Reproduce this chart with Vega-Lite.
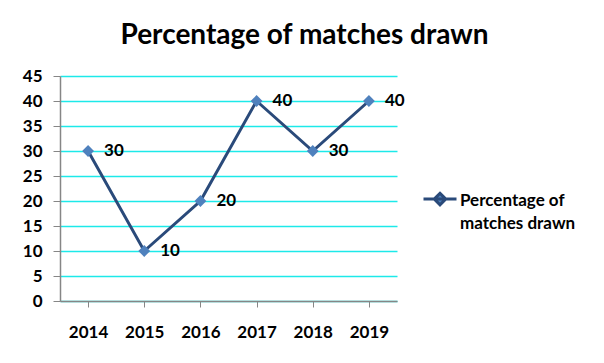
{
  "$schema": "https://vega.github.io/schema/vega-lite/v6.json",
  "autosize": "none",
  "width": 337,
  "height": 225,
  "padding": {"left": 60, "top": 76, "right": 207, "bottom": 62},
  "background": "white",
  "title": {
    "text": "Percentage of matches drawn",
    "anchor": "middle",
    "frame": "group",
    "dx": 76,
    "offset": 17,
    "font": "Lato",
    "fontSize": 28,
    "fontWeight": "bold",
    "color": "#000000"
  },
  "data": {
    "values": [
      {"year": "2014", "value": 30, "series": "Percentage of matches drawn"},
      {"year": "2015", "value": 10, "series": "Percentage of matches drawn"},
      {"year": "2016", "value": 20, "series": "Percentage of matches drawn"},
      {"year": "2017", "value": 40, "series": "Percentage of matches drawn"},
      {"year": "2018", "value": 30, "series": "Percentage of matches drawn"},
      {"year": "2019", "value": 40, "series": "Percentage of matches drawn"}
    ]
  },
  "encoding": {
    "x": {
      "field": "year",
      "type": "ordinal",
      "scale": {"paddingInner": 0, "paddingOuter": 0},
      "axis": {
        "title": null,
        "labelAngle": 0,
        "labelFont": "Lato",
        "labelFontSize": 17,
        "labelFontWeight": "bold",
        "labelColor": "#000000",
        "labelPadding": 17,
        "bandPosition": 0,
        "tickSize": 6,
        "tickColor": "#868686",
        "domainColor": "#868686",
        "domainWidth": 1.5,
        "grid": false
      }
    },
    "y": {
      "field": "value",
      "type": "quantitative",
      "scale": {"domain": [0, 45], "nice": false},
      "axis": {
        "title": null,
        "values": [0, 5, 10, 15, 20, 25, 30, 35, 40, 45],
        "labelFont": "Lato",
        "labelFontSize": 17,
        "labelFontWeight": "bold",
        "labelColor": "#000000",
        "labelPadding": 11,
        "tickSize": 7,
        "tickColor": "#868686",
        "domainColor": "#868686",
        "domainWidth": 1.5,
        "grid": true,
        "gridColor": "#1de9e9",
        "gridWidth": 1.5,
        "gridOpacity": 1
      }
    }
  },
  "layer": [
    {
      "mark": {"type": "line", "strokeWidth": 3},
      "encoding": {
        "color": {
          "field": "series",
          "type": "nominal",
          "scale": {"range": ["#2a4a7a"]},
          "legend": {
            "title": null,
            "orient": "none",
            "legendX": 362,
            "legendY": 112,
            "padding": 0,
            "symbolType": "M-1,-0.42L1,-0.42M0,-0.77L0.35,-0.42L0,-0.07L-0.35,-0.42Z",
            "symbolSize": 1089,
            "symbolStrokeWidth": 3,
            "symbolFillColor": "#4f81bd",
            "labelFont": "Lato",
            "labelFontSize": 17,
            "labelFontWeight": "bold",
            "labelColor": "#000000",
            "labelBaseline": "alphabetic",
            "labelOffset": 2,
            "labelLimit": 300,
            "labelExpr": "['Percentage of', 'matches drawn']"
          }
        }
      }
    },
    {
      "mark": {"type": "point", "shape": "diamond", "filled": true, "size": 140, "color": "#4f81bd", "opacity": 1}
    },
    {
      "mark": {"type": "text", "align": "left", "baseline": "middle", "dx": 16, "font": "Lato", "fontSize": 17, "fontWeight": "bold", "color": "#000000"},
      "encoding": {"text": {"field": "value", "type": "quantitative"}}
    }
  ],
  "config": {
    "view": {"stroke": null},
    "style": {"guide-label": {"lineHeight": 23}}
  }
}
